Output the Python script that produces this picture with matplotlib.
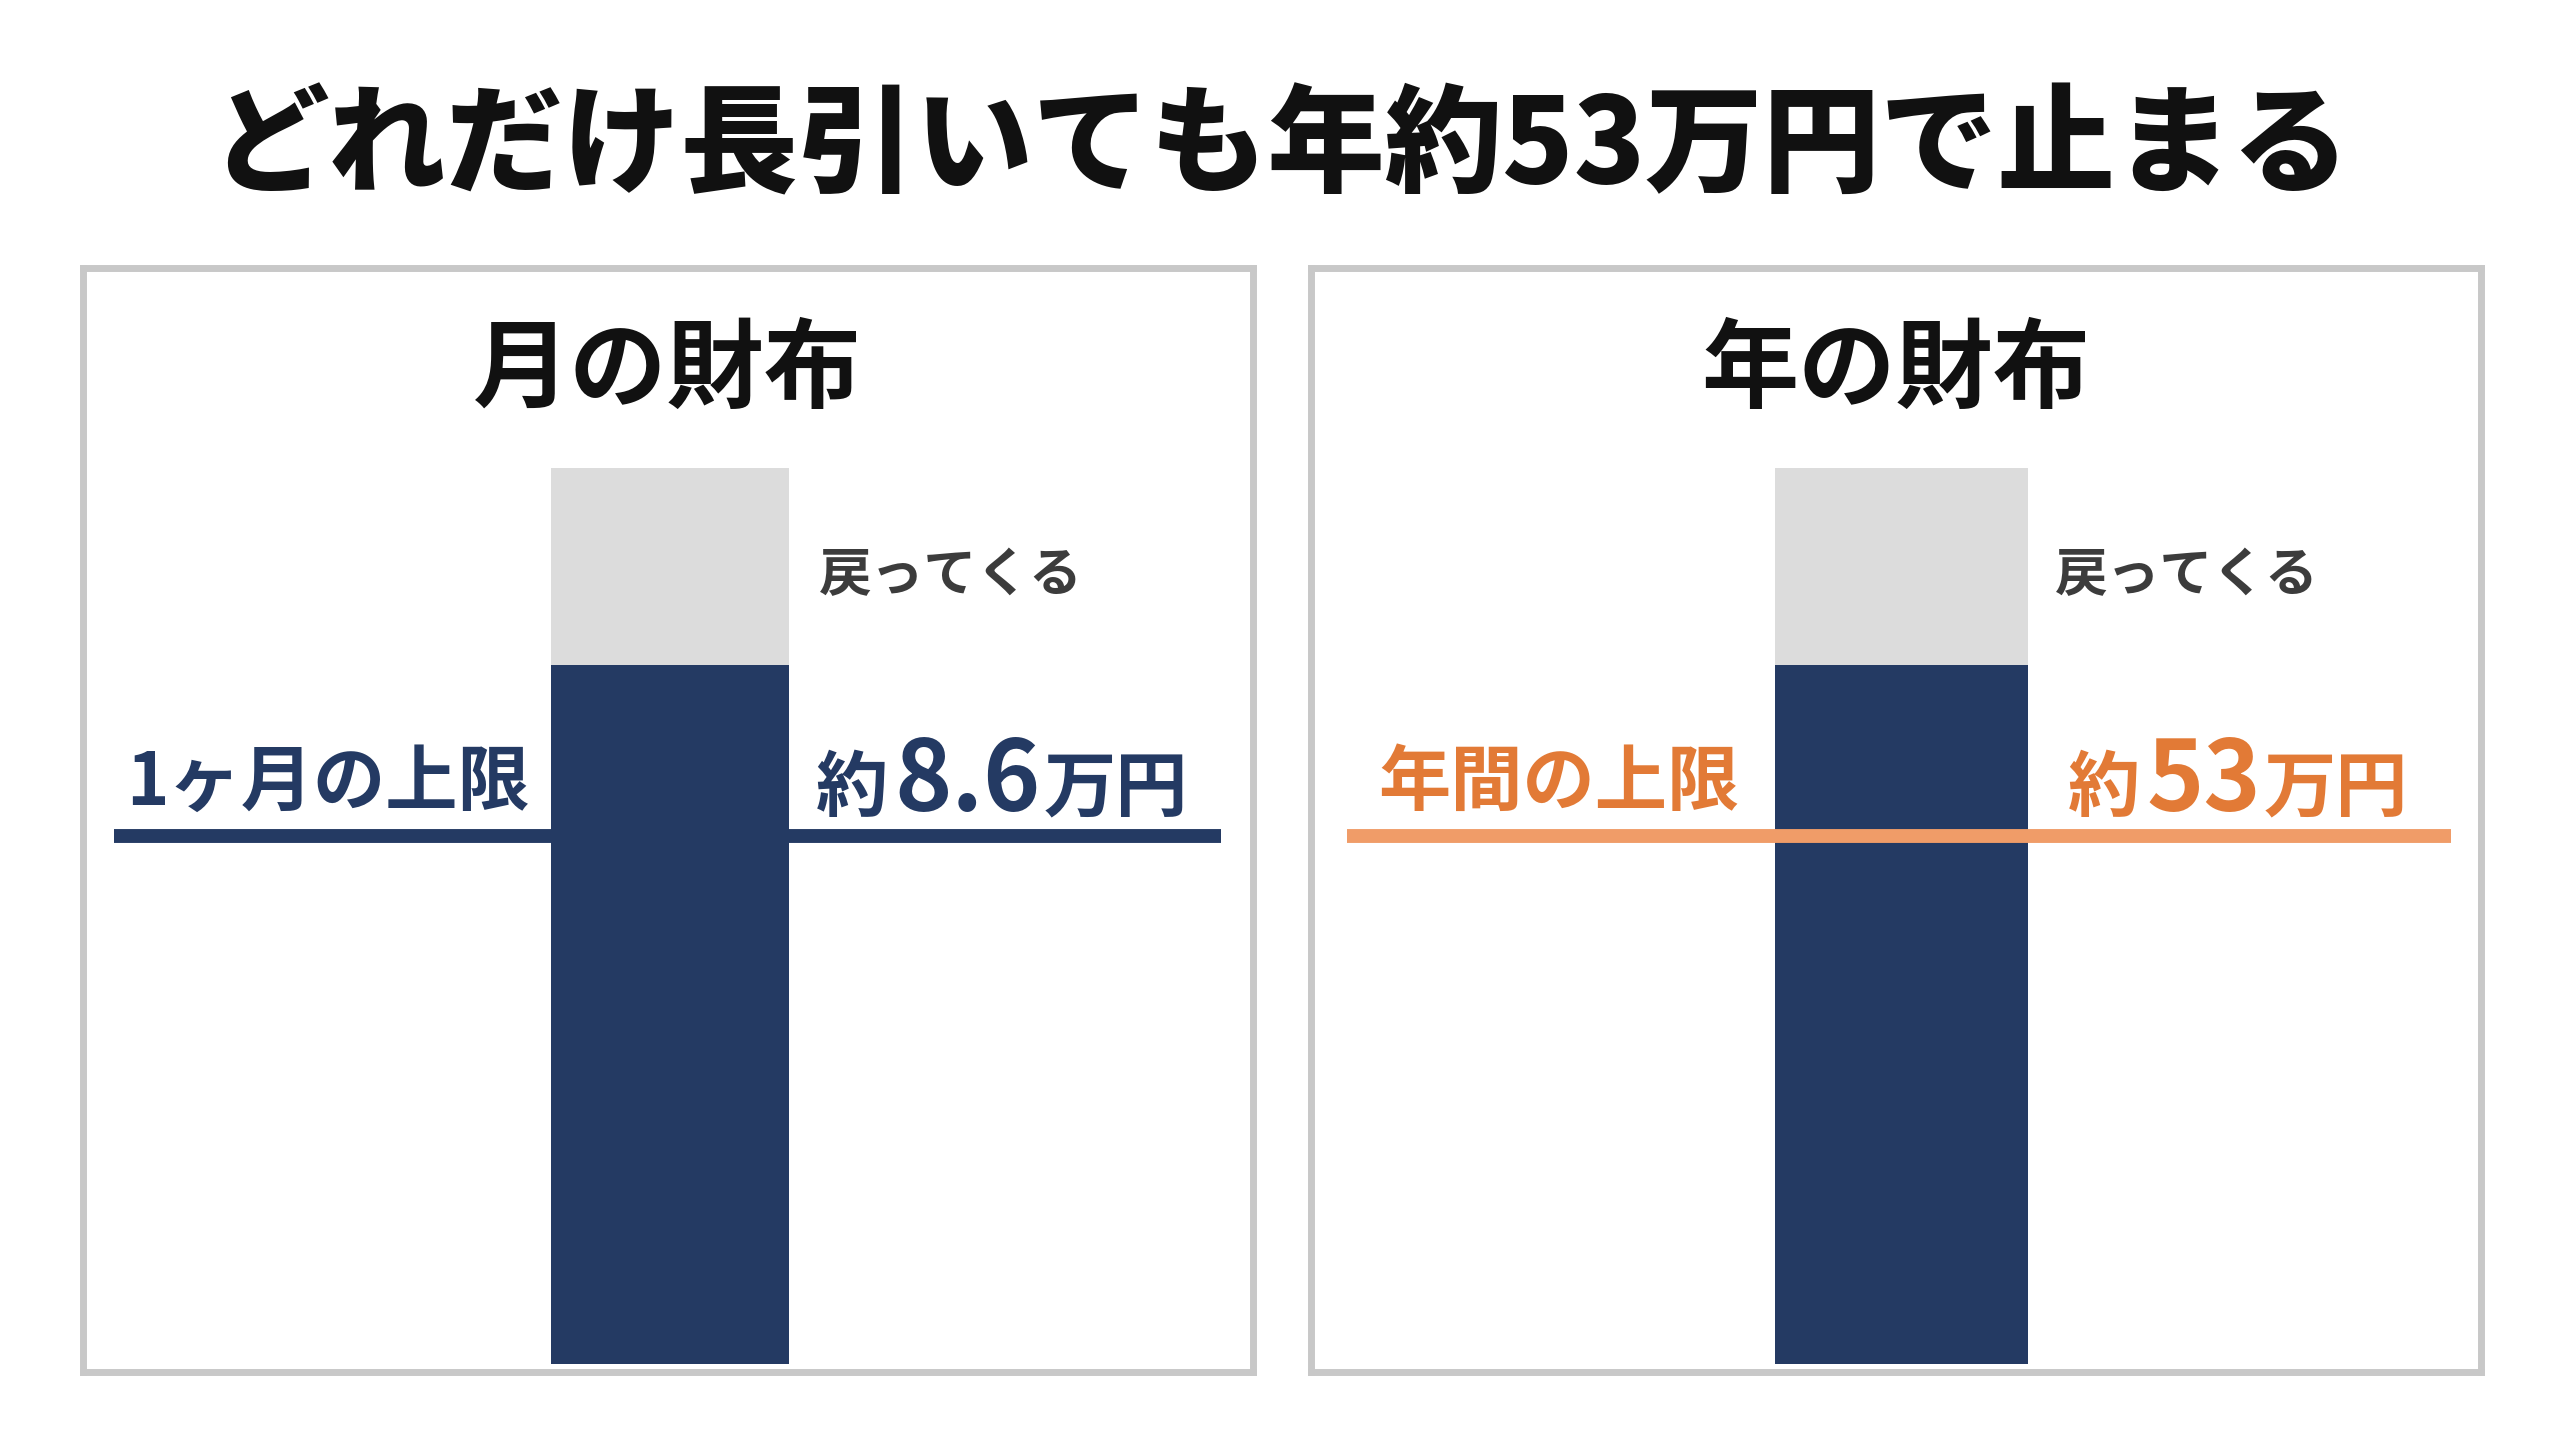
import matplotlib
matplotlib.use("Agg")
import matplotlib.pyplot as plt

# data
panel_titles = ["月の財布", "年の財布"]
limit_labels = ["1ヶ月の上限", "年間の上限"]
value_numbers = ["8.6", "53"]
value_prefix = "約"
value_unit = "万円"
return_label = "戻ってくる"
bar_total = [100, 100]     # whole bar (gray part comes back)
bar_paid = [78, 78]        # navy part
limit_level = [59, 59]     # cap line

W, H = 2560, 1429
NAVY = "#243a63"
ORANGE_TXT = "#e27a36"
ORANGE_LINE = "#f09c68"
GRAY_BAR = "#dcdcdc"
BORDER = "#c8c8c8"

plt.rcParams['font.family'] = ['Noto Sans CJK JP', 'DejaVu Sans']

fig = plt.figure(figsize=(W / 100, H / 100), dpi=100)
fig.patch.set_facecolor("white")


def fx(px):
    return px / W


def fy(py):
    return 1 - py / H


def put_parts(x_px, base_px, parts, color):
    # lay out text pieces one after another on one baseline
    r = fig.canvas.get_renderer()
    x = x_px
    for s, size, gap in parts:
        t = fig.text(fx(x + gap), fy(base_px), s, fontsize=size, fontweight="bold",
                     color=color, ha="left", va="baseline")
        x = t.get_window_extent(r).x1


fig.text(fx(1280), fy(183), "どれだけ長引いても年約53万円で止まる", fontsize=84.5,
         fontweight="black", color="#111111", ha="center", va="baseline")

# panel rectangles (px): left, top, right, bottom
panels = [(82.5, 268, 1253, 1372), (1311, 268, 2481, 1372)]
bar_center = [0.502, 0.505]
bar_width = [0.204, 0.216]
line_span = [(0.027, 0.973), (0.031, 0.974)]
line_color = [NAVY, ORANGE_LINE]
text_color = [NAVY, ORANGE_TXT]
label_x = [126, 1378]
value_x = [816, 2068]
return_x = [819, 2055]

for i in range(2):
    l, t, r, b = panels[i]
    ax = fig.add_axes([fx(l), fy(b), fx(r - l), (b - t) / H])
    ax.set_xlim(0, 1)
    ax.set_ylim(-0.84, 122.3)
    ax.set_xticks([])
    ax.set_yticks([])
    for sp in ax.spines.values():
        sp.set_color(BORDER)
        sp.set_linewidth(5)

    ax.bar(bar_center[i], bar_total[i], width=bar_width[i], color=GRAY_BAR, zorder=2)
    ax.bar(bar_center[i], bar_paid[i], width=bar_width[i], color=NAVY, zorder=3)
    ax.hlines(limit_level[i], line_span[i][0], line_span[i][1], color=line_color[i],
              linewidth=10, zorder=4)

    cx = (l + r) / 2
    fig.text(fx(cx), fy(400), panel_titles[i], fontsize=70, fontweight="bold",
             color="#111111", ha="center", va="baseline")
    fig.text(fx(return_x[i]), fy(591), return_label, fontsize=38, fontweight="bold",
             color="#3c3c3c", ha="left", va="baseline")
    fig.text(fx(label_x[i]), fy(805), limit_labels[i], fontsize=52, fontweight="bold",
             color=text_color[i], ha="left", va="baseline")
    put_parts(value_x[i], 811,
              [(value_prefix, 52, 0), (value_numbers[i], 70, 6), (value_unit, 52, 3)],
              text_color[i])

fig.savefig("out.png", dpi=100, facecolor="white")
